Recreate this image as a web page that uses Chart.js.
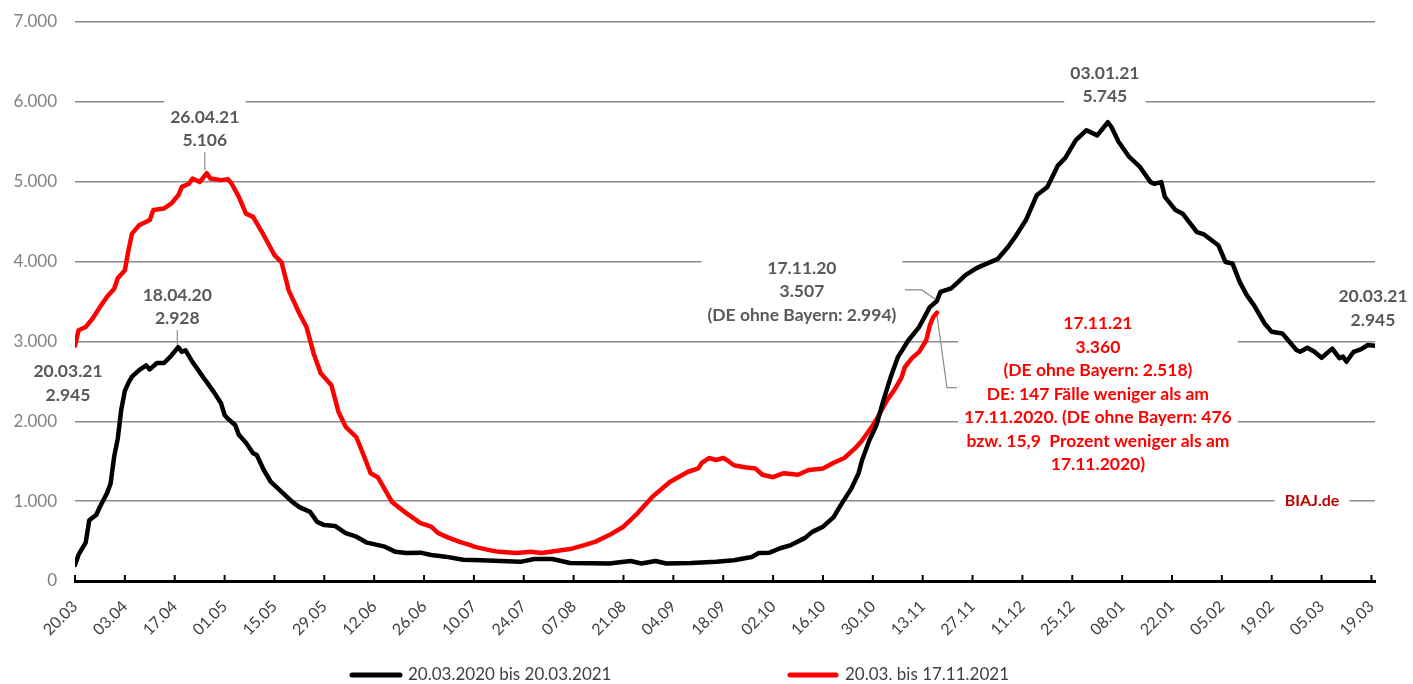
<!DOCTYPE html>
<html>
<head>
<meta charset="utf-8">
<script src="https://cdn.jsdelivr.net/npm/chart.js@4/dist/chart.umd.min.js"></script>
<style>
  html, body { margin: 0; padding: 0; background: #fff; }
  #wrap { width: 1413px; height: 684px; position: relative; }
</style>
</head>
<body>
<div id="wrap"><canvas id="chart"></canvas></div>
<script>
// x axis: day index since 20.03., one tick label every 14 days
var xTickLabels = ['20.03','03.04','17.04','01.05','15.05','29.05','12.06','26.06','10.07','24.07',
  '07.08','21.08','04.09','18.09','02.10','16.10','30.10','13.11','27.11','11.12','25.12','08.01',
  '22.01','05.02','19.02','05.03','19.03'];

// 20.03.2020 bis 20.03.2021
var blackDays = [0,1,3,4,6,7,9,10,11,12,13,14,15,16,18,20,21,23,25,27,29,30,31,33,34,36,37,39,41,42,43,45,46,48,50,51,53,55,58,59,61,63,66,68,70,73,76,79,82,87,90,93,97,100,104,109,114,125,129,134,139,150,156,159,163,166,173,180,185,190,192,195,198,201,205,207,210,213,215,218,220,221,223,225,227,229,231,234,237,240,242,243,246,248,250,253,255,259,262,264,267,270,273,276,278,281,284,287,290,291,293,296,299,302,303,305,306,309,311,315,317,321,323,325,327,329,331,334,336,339,343,344,346,348,350,353,355,356,357,359,361,363,365];
var blackValues = [200,330,480,760,830,930,1100,1220,1560,1780,2150,2380,2480,2560,2640,2700,2650,2730,2730,2820,2928,2870,2890,2740,2680,2550,2490,2365,2225,2080,2030,1950,1830,1730,1600,1580,1390,1240,1115,1075,990,925,865,740,700,690,600,555,480,430,365,350,355,325,305,265,260,240,275,275,225,220,250,220,250,220,225,240,260,300,350,355,410,450,540,615,680,800,950,1160,1350,1515,1760,1950,2265,2550,2800,3015,3180,3430,3507,3620,3665,3745,3830,3915,3955,4030,4185,4310,4520,4830,4935,5205,5295,5520,5645,5580,5745,5685,5500,5310,5185,4995,4975,4995,4810,4645,4600,4370,4340,4205,3995,3975,3745,3580,3455,3225,3120,3100,2890,2870,2920,2870,2795,2910,2790,2810,2745,2870,2900,2955,2945];

// 20.03. bis 17.11.2021
var redDays = [0,1,3,5,7,9,11,12,14,15,16,18,21,22,25,27,29,30,32,33,35,37,38,41,43,44,46,48,50,53,56,58,60,63,65,67,69,72,74,76,79,81,83,85,89,93,97,100,102,105,108,111,112,116,119,124,128,131,135,139,143,146,150,154,158,162,167,172,175,176,178,180,182,183,185,188,191,193,196,199,203,206,210,213,216,219,221,224,226,228,230,232,233,235,237,239,240,241,242];
var redValues = [2945,3140,3180,3290,3430,3560,3660,3790,3890,4140,4350,4455,4520,4645,4665,4725,4830,4935,4975,5040,4995,5106,5040,5020,5030,4975,4810,4600,4560,4330,4080,3990,3640,3350,3180,2850,2600,2450,2115,1930,1800,1580,1350,1300,990,850,725,680,600,540,490,450,430,390,365,350,365,350,375,400,450,490,575,680,850,1050,1240,1365,1410,1480,1540,1515,1540,1515,1450,1425,1410,1330,1300,1350,1330,1390,1410,1480,1540,1660,1760,1950,2100,2265,2390,2540,2680,2790,2870,3015,3200,3310,3360];

var seriesLabels = ['20.03.2020 bis 20.03.2021', '20.03. bis 17.11.2021'];

function fmt(v){
  return String(v).replace(/\B(?=(\d{3})+(?!\d))/g, '.');
}
function toPoints(days, values){
  return days.map(function(d, i){ return {x: d, y: values[i]}; });
}

// callouts: anchored to a data point, text offset in px from that point
var callouts = [
  {day: 37, value: 5106, lines: ['26.04.21','5.106'], color: '#595959', dx: -2, dy: -56, leader: [[-2,-21],[-2,-3]]},
  {day: 29, value: 2928, lines: ['18.04.20','2.928'], color: '#595959', dx: -1, dy: -52, leader: [[-1,-17],[-1,-2]]},
  {day: 0, value: 2945, lines: ['20.03.21','2.945'], color: '#595959', dx: -7, dy: 26},
  {day: 242, value: 3507, lines: ['17.11.20','3.507','(DE ohne Bayern: 2.994)'], color: '#595959', dx: -135, dy: -33, leader: [[-32,-11],[-15,-11],[-2,-2]]},
  {day: 290, value: 5745, lines: ['03.01.21','5.745'], color: '#595959', dx: -3, dy: -49},
  {day: 242, value: 3360, lines: ['17.11.21','3.360','(DE ohne Bayern: 2.518)','DE: 147 Fälle weniger als am',
    '17.11.2020. (DE ohne Bayern: 476','bzw. 15,9  Prozent weniger als am','17.11.2020)'], color: '#ff0000', dx: 161, dy: 11, leader: [[0,2],[10,75],[20,75]]},
  {day: 365, value: 2945, lines: ['20.03.21','2.945'], color: '#595959', dx: -2, dy: -49}
];

var labelFont = 'bold 17.5px Lato';
var lineH = 23.5;

var calloutPlugin = {
  id: 'callouts',
  beforeDatasetsDraw: function(chart){
    var ctx = chart.ctx, xs = chart.scales.x, ys = chart.scales.y;
    ctx.save();
    ctx.font = labelFont;
    ctx.textAlign = 'center';
    ctx.textBaseline = 'middle';
    callouts.forEach(function(c){
      var px = xs.getPixelForValue(c.day), py = ys.getPixelForValue(c.value);
      var cx = px + c.dx, cy = py + c.dy;
      var w = 0;
      c.lines.forEach(function(t){ w = Math.max(w, ctx.measureText(t).width); });
      ctx.fillStyle = '#fff';
      ctx.fillRect(cx - w/2 - 6, cy - lineH/2 - 6, w + 12, lineH * c.lines.length + 12);
      if (c.leader){
        ctx.beginPath();
        ctx.strokeStyle = '#8c8c8c';
        ctx.lineWidth = 1.2;
        c.leader.forEach(function(p, i){
          if (i === 0) ctx.moveTo(px + p[0], py + p[1]); else ctx.lineTo(px + p[0], py + p[1]);
        });
        ctx.stroke();
      }
      ctx.fillStyle = c.color;
      c.lines.forEach(function(t, i){ ctx.fillText(t, cx, cy + i * lineH); });
    });
    // source tag on the 1.000 line
    var by = ys.getPixelForValue(1000), bx = 1312;
    ctx.font = 'bold 16px Lato';
    var bw = ctx.measureText('BIAJ.de').width;
    ctx.fillStyle = '#fff';
    ctx.fillRect(bx - bw/2 - 10, by - 9, bw + 20, 18);
    ctx.fillStyle = '#c00000';
    ctx.fillText('BIAJ.de', bx, by);
    ctx.restore();
  },
  afterDraw: function(chart){
    var ctx = chart.ctx, xs = chart.scales.x, area = chart.chartArea;
    ctx.save();
    // small tick marks pointing up from the axis
    ctx.strokeStyle = '#000';
    ctx.lineWidth = 2;
    xs.ticks.forEach(function(t){
      var x = xs.getPixelForValue(t.value);
      ctx.beginPath();
      ctx.moveTo(x, area.bottom);
      ctx.lineTo(x, area.bottom - 6);
      ctx.stroke();
    });
    // legend
    var items = [[352, 400, 408], [790, 836, 845]];
    ctx.font = '17px Lato';
    ctx.textBaseline = 'middle';
    ctx.textAlign = 'left';
    chart.data.datasets.forEach(function(ds, i){
      var it = items[i];
      ctx.beginPath();
      ctx.strokeStyle = ds.borderColor;
      ctx.lineWidth = 5;
      ctx.lineCap = 'round';
      ctx.moveTo(it[0], 675);
      ctx.lineTo(it[1], 675);
      ctx.stroke();
      ctx.fillStyle = '#404040';
      ctx.fillText(ds.label, it[2], 675);
    });
    ctx.restore();
  }
};

new Chart(document.getElementById('chart'), {
  type: 'line',
  data: {
    datasets: [
      {label: seriesLabels[0], data: toPoints(blackDays, blackValues), borderColor: '#000000', backgroundColor: '#000000',
        borderWidth: 4.5, pointRadius: 0, tension: 0, borderJoinStyle: 'round', borderCapStyle: 'round'},
      {label: seriesLabels[1], data: toPoints(redDays, redValues), borderColor: '#ff0000', backgroundColor: '#ff0000',
        borderWidth: 4.5, pointRadius: 0, tension: 0, borderJoinStyle: 'round', borderCapStyle: 'round'}
    ]
  },
  options: {
    responsive: true,
    maintainAspectRatio: false,
    animation: false,
    layout: {padding: {top: 22, right: 38, bottom: 0, left: 0}},
    plugins: {legend: {display: false}, tooltip: {enabled: false}},
    scales: {
      x: {
        type: 'linear', min: 0, max: 365,
        afterFit: function(s){ s.height = 103; },
        grid: {display: false, drawTicks: false},
        border: {display: true, color: '#000', width: 3},
        ticks: {stepSize: 14, includeBounds: false, autoSkip: false, minRotation: 45, maxRotation: 45, padding: 16,
          color: '#404040', font: {family: 'Lato', size: 16},
          callback: function(v){ return xTickLabels[v / 14]; }}
      },
      y: {
        min: 0, max: 7000,
        afterFit: function(s){ s.width = 75; s.paddingTop = 0; s.paddingBottom = 0; },
        border: {display: false},
        grid: {drawTicks: false, lineWidth: 1.5,
          color: function(c){ return c.tick && c.tick.value === 0 ? 'rgba(0,0,0,0)' : '#8c8c8c'; }},
        ticks: {stepSize: 1000, padding: 18, color: '#808080', font: {family: 'Lato', size: 17}, callback: fmt}
      }
    }
  },
  plugins: [calloutPlugin]
});
</script>
</body>
</html>
